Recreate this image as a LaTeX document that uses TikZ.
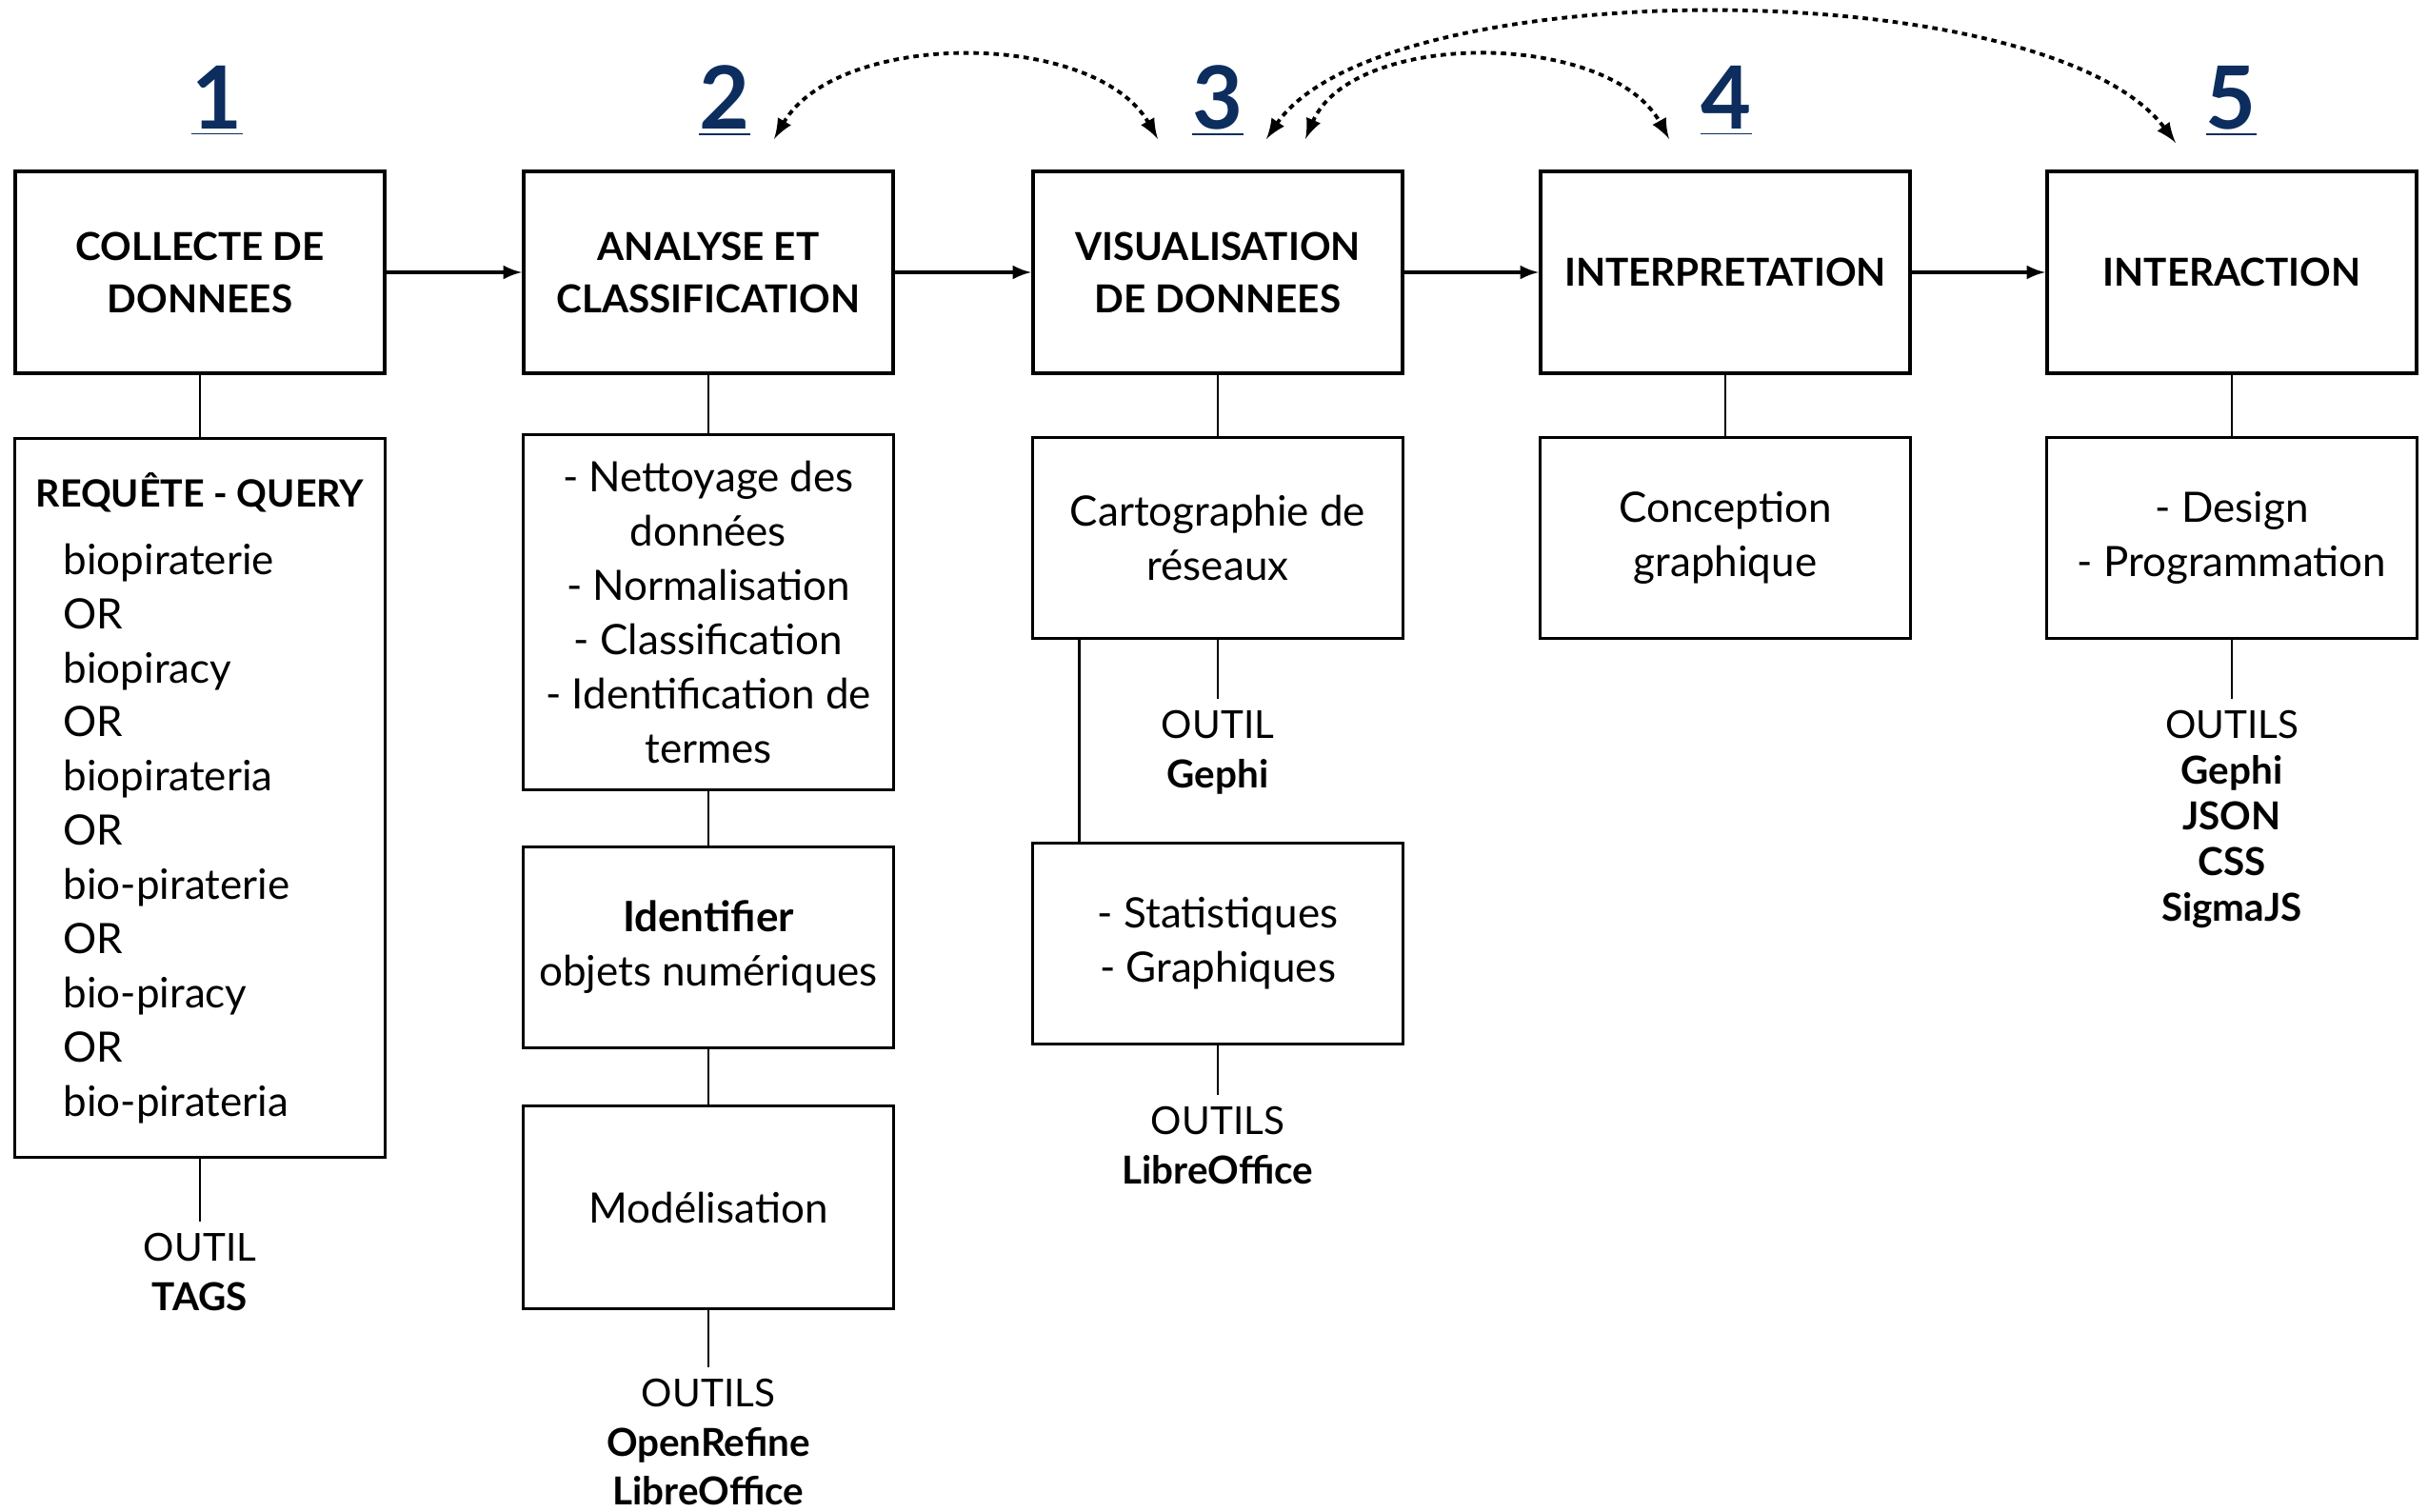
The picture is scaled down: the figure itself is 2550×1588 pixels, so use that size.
\documentclass[tikz,border=0pt]{standalone}
\usepackage{fontspec}
\setmainfont{Lato}
\definecolor{navy}{HTML}{0C2D5E}

\tikzset{
  stage/.style={draw,line width=1.1pt,minimum width=3.88cm,minimum height=2.12cm,inner sep=2pt,align=center,font=\bfseries\fontsize{11.5}{15.6}\selectfont},
  task/.style={draw,line width=0.9pt,minimum width=3.88cm,minimum height=2.11cm,inner sep=2pt,align=center,font=\fontsize{12.5}{16.2}\selectfont},
  tool/.style={align=center,font=\fontsize{11.5}{14.6}\selectfont},
  num/.style={text=navy,font=\bfseries\fontsize{26}{30}\selectfont},
  link/.style={line width=0.8pt},
  flow/.style={line width=0.9pt,-latex},
  loop/.style={line width=1.1pt,dash pattern=on 1.6pt off 1.4pt,latex-latex}
}

\begin{document}
\begin{tikzpicture}[x=0.01cm,y=-0.01cm]
  \useasboundingbox (0,0) rectangle (2550,1588);

  % step numbers
  \node[num] (n1) at (228,106) {\underline{1}};
  \node[num] (n2) at (761,106) {\underline{2}};
  \node[num] (n3) at (1279,106) {\underline{3}};
  \node[num] (n4) at (1813,106) {\underline{4}};
  \node[num] (n5) at (2343,106) {\underline{5}};

  % main stages
  \node[stage] (collect) at (210,286) {COLLECTE DE\\DONNEES};
  \node[stage] (analyse) at (744,286) {ANALYSE ET\\CLASSIFICATION};
  \node[stage] (visu) at (1279,286) {VISUALISATION\\DE DONNEES};
  \node[stage] (interp) at (1812,286) {INTERPRETATION};
  \node[stage] (inter) at (2344,286) {INTERACTION};

  \draw[flow] (collect) -- (analyse);
  \draw[flow] (analyse) -- (visu);
  \draw[flow] (visu) -- (interp);
  \draw[flow] (interp) -- (inter);

  % loops back to visualisation
  \coordinate (l2) at (813,146);
  \coordinate (l3a) at (1216,146);
  \coordinate (l3b) at (1371,146);
  \coordinate (l3c) at (1330,146);
  \coordinate (l4) at (1753,146);
  \coordinate (l5) at (2285,150);
  \draw[loop] (l2) .. controls (880,31) and (1150,31) .. (l3a);
  \draw[loop] (l3b) .. controls (1420,31) and (1690,31) .. (l4);
  \draw[loop] (l3c) .. controls (1450,-30) and (2150,-30) .. (l5);

  % column 1
  \node[task,minimum height=7.55cm] (query) at (210,838) {};
  \node[font=\bfseries\fontsize{11.2}{16.2}\selectfont] (qhead) at (210,517) {REQUÊTE - QUERY};
  \node[anchor=north west,inner sep=0,align=left,font=\fontsize{12.5}{16.2}\selectfont] (qlist) at (66,570)
    {biopiraterie\\OR\\biopiracy\\OR\\biopirateria\\OR\\bio-piraterie\\OR\\bio-piracy\\OR\\bio-pirateria};
  \node[tool,anchor=north] (tags) at (210,1283) {OUTIL\\\textbf{TAGS}};
  \draw[link] (collect) -- (query);
  \draw[link] (query) -- (tags);

  % column 2
  \node[task,minimum height=3.72cm] (clean) at (744,643) {- Nettoyage des\\données\\- Normalisation\\- Classification\\- Identification de\\termes};
  \node[task] (ident) at (744,995) {\textbf{Identifier}\\objets numériques};
  \node[task,minimum height=2.13cm] (model) at (744,1268) {Modélisation};
  \node[tool,anchor=north] (refine) at (744,1436) {OUTILS\\\textbf{OpenRefine}\\\textbf{LibreOffice}};
  \draw[link] (analyse) -- (clean);
  \draw[link] (clean) -- (ident);
  \draw[link] (ident) -- (model);
  \draw[link] (model) -- (refine);

  % column 3
  \node[task] (carto) at (1279,565) {Cartographie de\\réseaux};
  \node[tool,anchor=north] (gephi) at (1279,734) {OUTIL\\\textbf{Gephi}};
  \node[task] (stats) at (1279,991) {- Statistiques\\- Graphiques};
  \node[tool,anchor=north] (office) at (1279,1150) {OUTILS\\\textbf{LibreOffice}};
  \draw[link] (visu) -- (carto);
  \draw[link] (carto) -- (gephi);
  \draw[link] ([xshift=0.5cm]carto.south west) -- ([xshift=0.5cm]stats.north west);
  \draw[link] (stats) -- (office);

  % column 4
  \node[task] (concept) at (1812,565) {Conception\\graphique};
  \draw[link] (interp) -- (concept);

  % column 5
  \node[task] (design) at (2344,565) {- Design\\- Programmation};
  \node[tool,anchor=north,font=\fontsize{11.5}{13.6}\selectfont] (web) at (2344,734) {OUTILS\\\textbf{Gephi}\\\textbf{JSON}\\\textbf{CSS}\\\textbf{SigmaJS}};
  \draw[link] (inter) -- (design);
  \draw[link] (design) -- (web);
\end{tikzpicture}
\end{document}
